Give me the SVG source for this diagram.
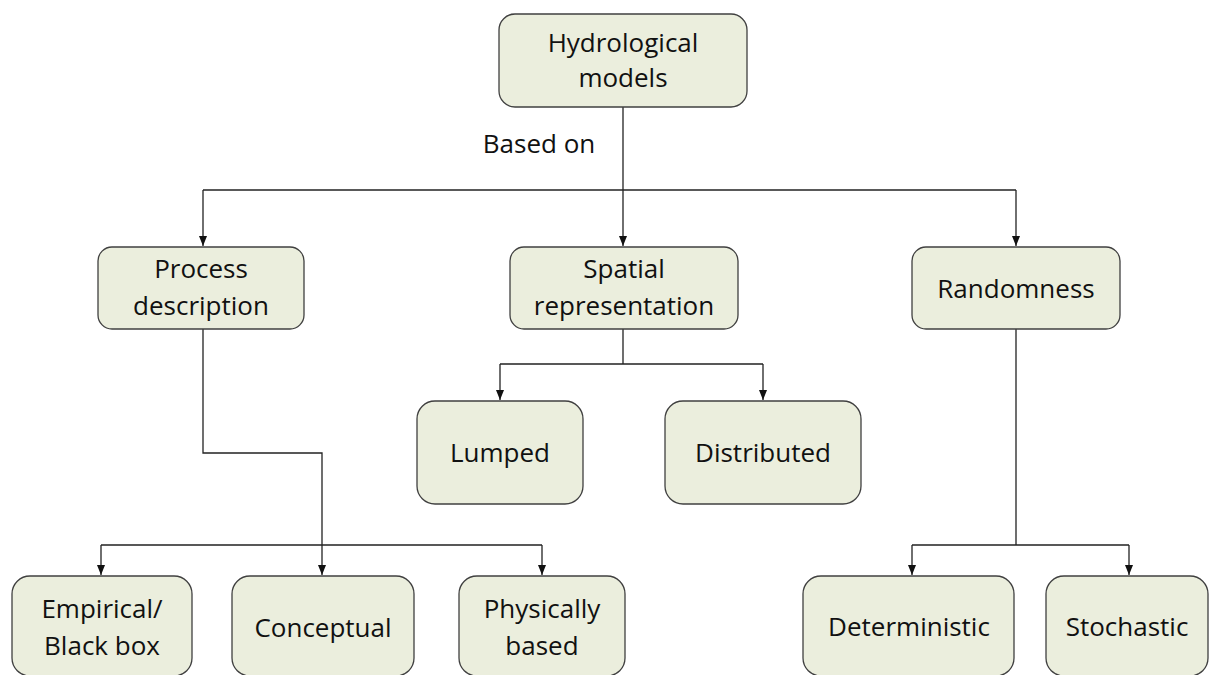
<svg xmlns="http://www.w3.org/2000/svg" width="1209" height="675" viewBox="0 0 1209 675">
<defs>
<style>
.box{fill:#ebeedd;stroke:#404040;stroke-width:1.3}
.t{font-family:"Open Sans","Liberation Sans",sans-serif;font-size:26px;fill:#111;text-anchor:middle}
.c{fill:none;stroke:#222;stroke-width:1.3}
</style>
<marker id="ah" viewBox="0 0 10 8" refX="10" refY="4" markerWidth="10" markerHeight="8" markerUnits="userSpaceOnUse" orient="auto"><path d="M0,0 L10,4 L0,8 z" fill="#111"/></marker>
</defs>
<rect width="1209" height="675" fill="#fff"/>
<g id="connectors">
<path class="c" d="M623,107 V190"/>
<path class="c" d="M203,190 H1016"/>
<path class="c" d="M203,190 V246" marker-end="url(#ah)"/>
<path class="c" d="M623,190 V246" marker-end="url(#ah)"/>
<path class="c" d="M1016,190 V246" marker-end="url(#ah)"/>
<path class="c" d="M623,329 V364 M500,364 H763"/>
<path class="c" d="M500,364 V400" marker-end="url(#ah)"/>
<path class="c" d="M763,364 V400" marker-end="url(#ah)"/>
<path class="c" d="M203,329 V453 H322 V545 M101,545 H542"/>
<path class="c" d="M101,545 V575" marker-end="url(#ah)"/>
<path class="c" d="M322,545 V575" marker-end="url(#ah)"/>
<path class="c" d="M542,545 V575" marker-end="url(#ah)"/>
<path class="c" d="M1016,329 V545 M912,545 H1129"/>
<path class="c" d="M912,545 V575" marker-end="url(#ah)"/>
<path class="c" d="M1129,545 V575" marker-end="url(#ah)"/>
</g>
<text class="t" x="539" y="153">Based on</text>
<g id="hydro"><rect class="box" x="499" y="14" width="248" height="93" rx="16"/><text class="t" x="623" y="52">Hydrological</text><text class="t" x="623" y="87">models</text></g>
<g id="process"><rect class="box" x="98" y="247" width="206" height="82" rx="14"/><text class="t" x="201" y="278">Process</text><text class="t" x="201" y="315">description</text></g>
<g id="spatial"><rect class="box" x="510" y="247" width="228" height="82" rx="14"/><text class="t" x="624" y="278">Spatial</text><text class="t" x="624" y="315">representation</text></g>
<g id="random"><rect class="box" x="912" y="247" width="208" height="82" rx="14"/><text class="t" x="1016" y="298">Randomness</text></g>
<g id="lumped"><rect class="box" x="417" y="401" width="166" height="103" rx="18"/><text class="t" x="500" y="462">Lumped</text></g>
<g id="distributed"><rect class="box" x="665" y="401" width="196" height="103" rx="18"/><text class="t" x="763" y="462">Distributed</text></g>
<g id="empirical"><rect class="box" x="12" y="576" width="180" height="100" rx="18"/><text class="t" x="102" y="618">Empirical/</text><text class="t" x="102" y="655">Black box</text></g>
<g id="conceptual"><rect class="box" x="232" y="576" width="182" height="100" rx="18"/><text class="t" x="323" y="637">Conceptual</text></g>
<g id="physical"><rect class="box" x="459" y="576" width="166" height="100" rx="18"/><text class="t" x="542" y="618">Physically</text><text class="t" x="542" y="655">based</text></g>
<g id="deterministic"><rect class="box" x="803" y="576" width="211" height="100" rx="18"/><text class="t" x="909" y="636">Deterministic</text></g>
<g id="stochastic"><rect class="box" x="1046" y="576" width="162" height="100" rx="18"/><text class="t" x="1127" y="636">Stochastic</text></g>
</svg>
